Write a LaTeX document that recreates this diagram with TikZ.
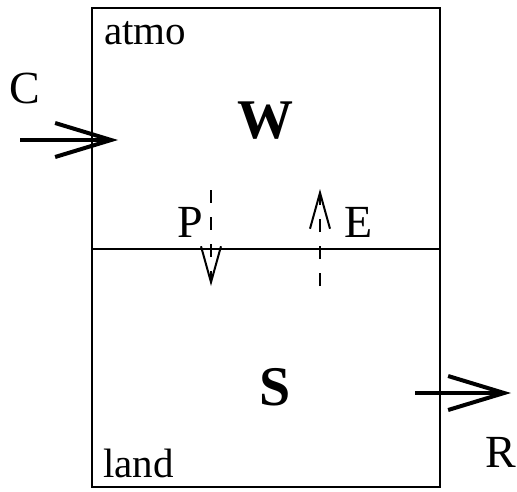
\documentclass[tikz,border=0pt]{standalone}
\usepackage{fontspec}
\setmainfont{Liberation Serif}
\usetikzlibrary{arrows.meta}
\tikzset{
  lbl/.style={inner sep=0pt, font=\fontsize{46}{46}\selectfont},
  big/.style={inner sep=0pt, font=\fontsize{56}{56}\selectfont\bfseries},
  small/.style={inner sep=0pt, font=\fontsize{41}{41}\selectfont},
  flow/.style={line width=4pt, -{Straight Barb[length=56pt,width=34pt,line width=4pt]}},
  vflow/.style={line width=1.6pt, dash pattern=on 13pt off 14pt, -{Straight Barb[length=36pt,width=20pt,line width=2pt]}}
}
\begin{document}
\begin{tikzpicture}[x=1pt,y=-1pt]
\useasboundingbox (0,0) rectangle (517,491);
\draw[line width=2pt] (92,8) rectangle (440,487);
\coordinate (ml) at (92,249);
\coordinate (mr) at (440,249);
\draw[line width=1.4pt] (ml) -- (mr);
\node[small, anchor=base west] (atmo) at (104,44) {atmo};
\node[small, anchor=base west] (land) at (103,477) {land};
\node[lbl] (C) at (25,88) {C};
\node[lbl] (R) at (501,452) {R};
\node[big] (W) at (265,121) {W};
\node[big] (S) at (275,387) {S};
\node[lbl] (P) at (190,222.5) {P};
\node[lbl] (E) at (359,222.5) {E};
\coordinate (c0) at (20,140);
\coordinate (c1) at (118,140);
\draw[flow] (c0) -- (c1);
\coordinate (r0) at (415,393);
\coordinate (r1) at (511,393);
\draw[flow] (r0) -- (r1);
\coordinate (p0) at (211,190);
\coordinate (p1) at (211,286);
\draw[vflow] (p0) -- (p1);
\coordinate (e0) at (320,286);
\coordinate (e1) at (320,189);
\draw[vflow] (e0) -- (e1);
\end{tikzpicture}
\end{document}
